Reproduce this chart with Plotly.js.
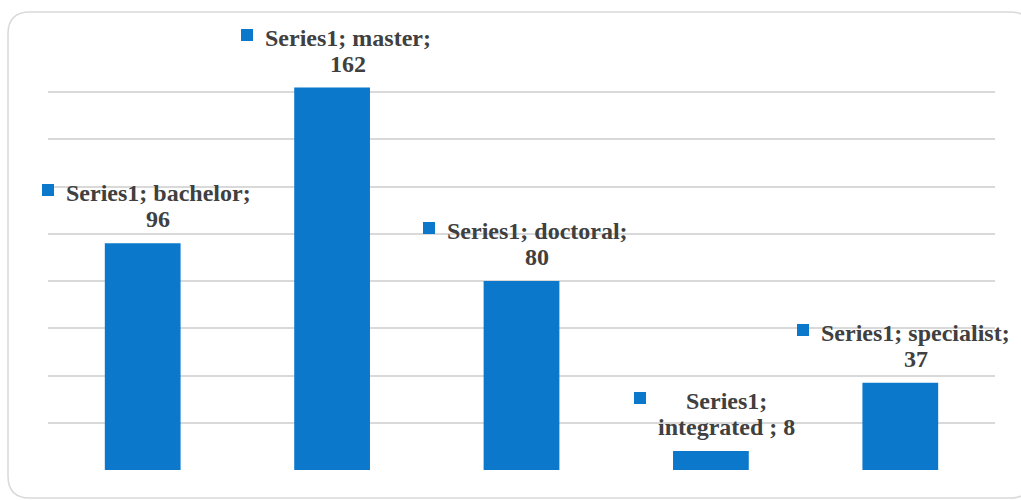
<!DOCTYPE html>
<html>
<head>
<meta charset="utf-8">
<script src="https://cdn.plot.ly/plotly-3.0.1.min.js"></script>
<style>
  html, body { margin: 0; padding: 0; background: #ffffff; }
  #chart { width: 1021px; height: 500px; }
</style>
</head>
<body>
<div id="chart"></div>
<script>
// ---- data ----
const seriesName = 'Series1';
const categories = ['bachelor', 'master', 'doctoral', 'integrated ', 'specialist'];
const values = [96, 162, 80, 8, 37];
// words of the data label kept on the first line (how the label wraps)
const firstLineWords = [2, 2, 2, 1, 2];

// ---- style ----
const barColor = '#0b78cb';
const textColor = '#404040';
const gridColor = '#d9d9d9';
const labelFont = 'Liberation Serif';
const labelSize = 24;
const lineGap = 26;        // px between label baselines
const textShift = 15.5;    // label text centre right of bar centre (px)

function measure(txt) {
  const c = document.createElement('canvas').getContext('2d');
  c.font = 'bold ' + labelSize + 'px "' + labelFont + '"';
  return c.measureText(txt).width;
}

const annotations = [];
const shapes = [];

categories.forEach(function (cat, i) {
  const full = seriesName + '; ' + cat + '; ' + values[i];
  const words = full.split(' ');
  const lines = [words.slice(0, firstLineWords[i]).join(' '), words.slice(firstLineWords[i]).join(' ')];
  const nL = lines.length;
  lines.forEach(function (ln, k) {
    annotations.push({
      x: cat, y: values[i], xref: 'x', yref: 'y',
      text: ln, showarrow: false,
      xanchor: 'center', yanchor: 'bottom',
      xshift: textShift,
      yshift: 10 + (nL - 1 - k) * lineGap,
      font: { family: labelFont, size: labelSize, color: textColor, weight: 'bold' },
      borderpad: 0
    });
  });
  // legend key square in front of the label
  const w = Math.max.apply(null, lines.map(measure));
  const left = textShift - w / 2 - 24;
  annotations.push({
    x: cat, y: values[i], xref: 'x', yref: 'y',
    text: ' ', showarrow: false,
    xanchor: 'left', yanchor: 'bottom',
    xshift: left, yshift: 47,
    width: 12, height: 12,
    bgcolor: barColor, borderpad: 0, borderwidth: 0,
    font: { size: 4, color: barColor }
  });
});

// rounded chart border (pixels relative to the plot area's bottom-left corner)
const bx0 = -40, bx1 = 984, by0 = -28, by1 = 458, r = 22;
shapes.push({
  type: 'path', xref: 'paper', yref: 'paper',
  xsizemode: 'pixel', ysizemode: 'pixel', xanchor: 0, yanchor: 0,
  path: 'M ' + (bx0 + r) + ' ' + by1 + ' L ' + (bx1 - r) + ' ' + by1 +
        ' Q ' + bx1 + ' ' + by1 + ' ' + bx1 + ' ' + (by1 - r) +
        ' L ' + bx1 + ' ' + (by0 + r) + ' Q ' + bx1 + ' ' + by0 + ' ' + (bx1 - r) + ' ' + by0 +
        ' L ' + (bx0 + r) + ' ' + by0 + ' Q ' + bx0 + ' ' + by0 + ' ' + bx0 + ' ' + (by0 + r) +
        ' L ' + bx0 + ' ' + (by1 - r) + ' Q ' + bx0 + ' ' + by1 + ' ' + (bx0 + r) + ' ' + by1 + ' Z',
  line: { color: gridColor, width: 1.5 },
  fillcolor: 'rgba(0,0,0,0)',
  layer: 'below'
});

const trace = {
  type: 'bar',
  x: categories,
  y: values,
  marker: { color: barColor, line: { width: 0 } },
  hoverinfo: 'x+y'
};

const layout = {
  width: 1021, height: 500,
  margin: { l: 48, r: 26, t: 45, b: 30, pad: 0 },
  paper_bgcolor: '#ffffff', plot_bgcolor: '#ffffff',
  showlegend: false,
  bargap: 0.6,
  xaxis: { type: 'category', range: [-0.5, categories.length - 0.5], autorange: false,
           showticklabels: false, showgrid: false, zeroline: false, showline: false, ticks: '' },
  yaxis: { range: [0, 180], autorange: false, dtick: 20, tick0: 0, showticklabels: false, showgrid: true,
           gridcolor: gridColor, gridwidth: 2, zeroline: false, showline: false, ticks: '' },
  annotations: annotations,
  shapes: shapes
};

Plotly.newPlot('chart', [trace], layout, { displayModeBar: false, staticPlot: true });
</script>
</body>
</html>
